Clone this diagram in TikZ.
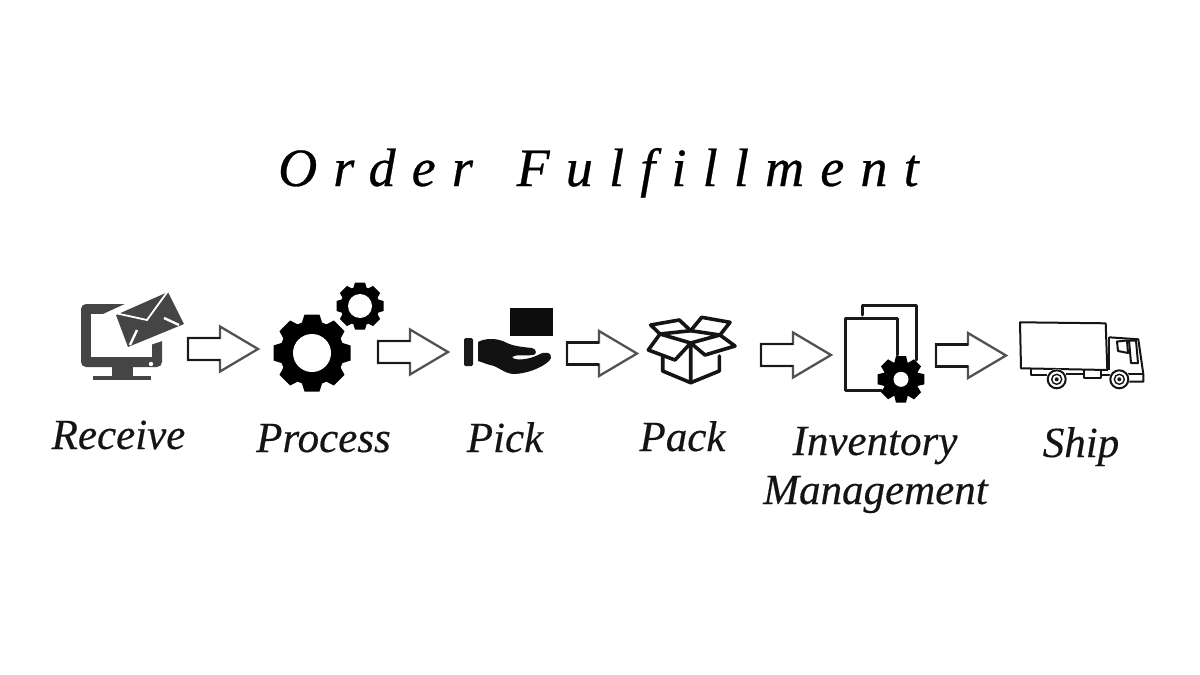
\documentclass[tikz,border=0pt]{standalone}
\usepackage{fontspec}
\setmainfont{Liberation Serif}
\newcommand{\gearicon}[7]{%
  \begin{scope}[shift={(#1,#2)}]
    \fill[#7] (0,0) circle[radius=#4];
    \foreach \a in {0,45,...,315}{
      \fill[#7,rotate=\a] ({-0.68*#6},{#4-2}) -- ({-0.5*#6},{#3}) -- ({0.5*#6},{#3}) -- ({0.68*#6},{#4-2}) -- cycle;
    }
    \fill[white] (0,0) circle[radius=#5];
  \end{scope}}
\newcommand{\blockarrow}[3]{%
  \begin{scope}[shift={(#2,#3)}]
    \coordinate (#1) at (35,0);
    \draw[arrowgray] (0,-11) -- (32,-11) -- (32,-22.5) -- (70,0) -- (32,22.5) -- (32,11) -- (0,11) -- cycle;
    \draw[arrowdark] (32,-11) -- (0,-11) -- (0,11) -- (32,11);
  \end{scope}}
\tikzset{
  arrowgray/.style={draw=black!68,line width=2.3pt,fill=white,line join=miter},
  arrowdark/.style={draw=black!90,line width=2.5pt},
  label/.style={font=\fontsize{43}{49}\selectfont\itshape\addfontfeature{FakeBold=0.35},anchor=base,align=center,text=black!92},
  pack/.style={draw=black!92,line width=3.6pt,line join=round,line cap=round},
  docline/.style={draw=black!90,line width=3pt,line join=round,line cap=round},
  truckline/.style={draw=black!92,line width=2pt,line join=round},
  screen/.style={fill=black!73}
}
\begin{document}
\begin{tikzpicture}[x=1pt,y=-1pt]
\useasboundingbox (0,0) rectangle (1200,675);
\fill[white] (0,0) rectangle (1200,675);
% title
\node[anchor=base west,inner sep=0pt] (title) at (278,186)
  {\fontsize{54}{60}\selectfont\itshape\addfontfeature{LetterSpace=30,Ligatures=NoCommon,FakeBold=0.5}Order\hspace{14pt} Fulfillment};
% computer
\fill[screen,rounded corners=5pt] (81,304) rectangle (162,367);
\fill[white] (91,314) rectangle (152,357);
\fill[screen] (112,366) rectangle (133,377);
\fill[screen] (93,376) rectangle (151,380);
\fill[white] (151,364) circle[radius=2.2];
\fill[white] (101,315) -- (125,304) -- (175,285) -- (190,326) -- (162,341) -- (150,345) -- (127,350) -- (112,316) -- cycle;
\fill[screen] (116,315) -- (168,292) -- (184,324) -- (128,347) -- cycle;
\draw[white,line width=1.8pt] (168,291) -- (147,320) -- (115,313);
\draw[white,line width=2.4pt] (164,318) -- (179,325);
\draw[white,line width=2.4pt] (137,330) -- (130,345);
% gears
\gearicon{312}{353}{38.5}{32}{19}{15}{black}
\gearicon{360}{306}{23.5}{19.5}{12}{10}{black}
% pick
\fill[black!95] (510,308) rectangle (553,336);
\fill[black!90,rounded corners=1.5pt] (464,338) rectangle (473,366);
\fill[black!93] (478,342) .. controls (485,338) and (497,338) .. (505,342)
  .. controls (512,346) and (522,347) .. (532,348)
  .. controls (537,349) and (537,355) .. (533,355)
  .. controls (525,356) and (516,354) .. (512,357)
  .. controls (514,361) and (528,360) .. (538,355)
  .. controls (545,351) and (552,352) .. (551,358)
  .. controls (549,364) and (530,374) .. (513,374)
  .. controls (503,373) and (498,366) .. (490,365)
  .. controls (486,364) and (482,362) .. (478,361) -- cycle;
% box
\draw[pack] (690.7,343) -- (690.7,382.7) -- (662.7,371) -- (662.7,357);
\draw[pack] (690.7,382.7) -- (719.3,371) -- (719.3,356);
\draw[pack] (660,334) -- (650.7,325) -- (679.3,320) -- (690.7,330.7) -- (701.7,317.3) -- (730,322.3) -- (720,335);
\draw[pack] (660,334) -- (690.7,330.7) -- (720,335) -- (690.7,343) -- cycle;
\draw[pack] (660,334) -- (648.3,350) -- (675,360) -- (690.7,343);
\draw[pack] (720,335) -- (735,346) -- (705,355) -- (690.7,343);
% inventory
\draw[docline] (881.7,390) -- (845,390) -- (845,318.3) -- (897.7,318.3) -- (897.7,355);
\draw[docline] (862.7,315) -- (862.7,305.7) -- (916.7,305.7) -- (916.7,360);
\gearicon{901}{379.3}{23.3}{18}{7.5}{10}{black}
% truck
\draw[truckline] (1020,322.3) -- (1105.7,323.3) -- (1107.3,370) -- (1021,368.3) -- cycle;
\draw[truckline] (1109,337.3) -- (1138.3,339.3) -- (1143.3,374) -- (1143.3,381.7) -- (1128,381.7);
\draw[truckline] (1109,337.3) -- (1109,370);
\draw[truckline] (1128,374) -- (1143.3,374);
\draw[truckline] (1031,369) -- (1031,374.5) -- (1047,374.5);
\draw[truckline] (1066,374) -- (1084,374);
\draw[truckline] (1084,370) -- (1084,378) -- (1101,378) -- (1101,370);
\draw[truckline] (1101,375) -- (1110,375);
\draw[truckline] (1117,341.5) -- (1127,340.5) -- (1128,353) -- (1118,351) -- cycle;
\draw[truckline] (1129,340.5) -- (1136,340.5) -- (1138,363) -- (1131,363) -- cycle;
\foreach \wx in {1056.7,1119.3}{
  \fill[white] (\wx,379.3) circle[radius=10.5];
  \draw[draw=black!92,line width=2pt] (\wx,379.3) circle[radius=9];
  \draw[draw=black!92,line width=1.4pt] (\wx,379.3) circle[radius=5];
  \fill[black!92] (\wx,379.3) circle[radius=2];
}
% arrows
\blockarrow{arrowA}{188}{349}
\blockarrow{arrowB}{378}{352}
\blockarrow{arrowC}{567}{353.5}
\blockarrow{arrowD}{761}{355}
\blockarrow{arrowE}{936}{355.5}
% labels
\node[label,inner sep=0pt] (receive) at (118.5,449) {Receive};
\node[label,inner sep=0pt] (process) at (323.5,452) {Process};
\node[label,inner sep=0pt] (pick) at (505,452) {Pick};
\node[label,inner sep=0pt] (packlabel) at (682.5,451) {Pack};
\node[label,inner sep=0pt] (inventory) at (875,455) {Inventory};
\node[label,inner sep=0pt] (management) at (875.5,504) {Management};
\node[label,inner sep=0pt] (ship) at (1081,457) {Ship};
\end{tikzpicture}
\end{document}
